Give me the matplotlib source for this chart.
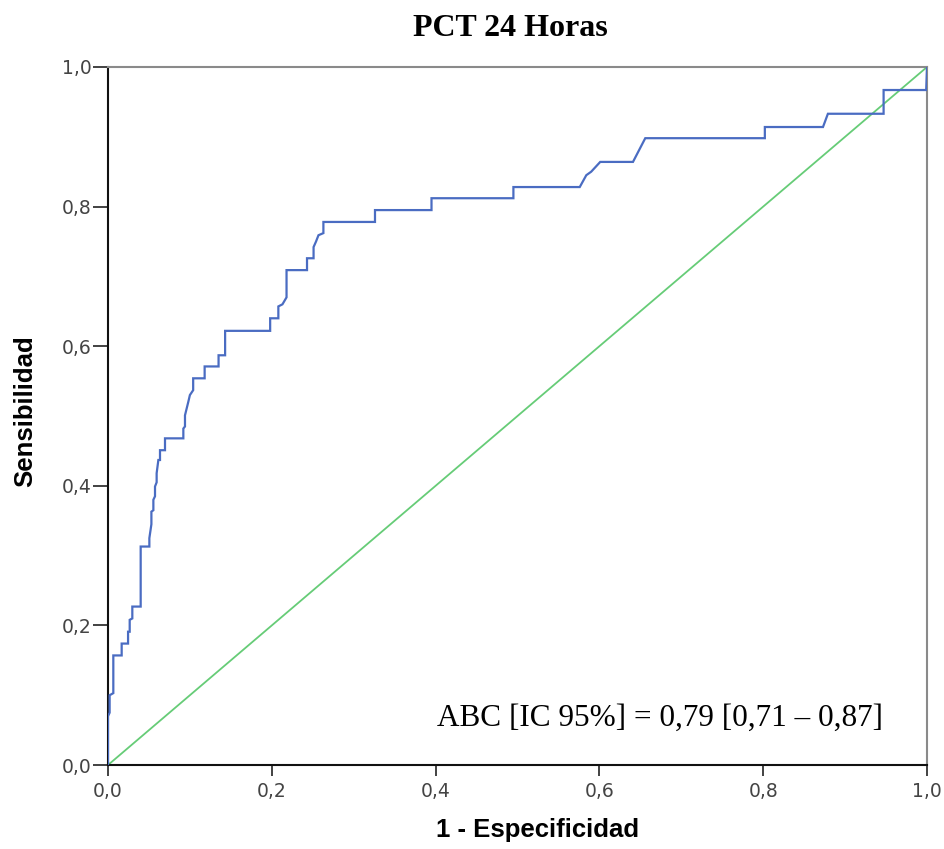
import matplotlib
matplotlib.use("Agg")
import matplotlib.pyplot as plt
from matplotlib.ticker import FuncFormatter

# vertices of the ROC curve (1 - especificidad, sensibilidad)
fpr = [0.0, 0.0, 0.002, 0.002, 0.0065, 0.0065, 0.0167, 0.0167, 0.0245, 0.0245,
       0.0265, 0.0265, 0.0297, 0.0297, 0.0399, 0.0399, 0.0505, 0.0505, 0.053, 0.053,
       0.0554, 0.0554, 0.0574, 0.0574, 0.0594, 0.0594, 0.0615, 0.0635, 0.0635, 0.0696,
       0.0696, 0.092, 0.092, 0.094, 0.094, 0.098, 0.100, 0.104, 0.104, 0.118,
       0.118, 0.135, 0.135, 0.143, 0.143, 0.198, 0.198, 0.208, 0.208, 0.213,
       0.218, 0.218, 0.243, 0.243, 0.251, 0.251, 0.254, 0.257, 0.263, 0.263,
       0.326, 0.326, 0.395, 0.395, 0.495, 0.495, 0.576, 0.584, 0.590, 0.601,
       0.641, 0.656, 0.802, 0.802, 0.873, 0.879, 0.947, 0.947, 0.999, 1.0]
tpr = [0.0, 0.07, 0.075, 0.10, 0.103, 0.157, 0.157, 0.174, 0.174, 0.191,
       0.191, 0.208, 0.210, 0.227, 0.227, 0.313, 0.313, 0.325, 0.345, 0.363,
       0.365, 0.380, 0.385, 0.399, 0.405, 0.418, 0.437, 0.437, 0.451, 0.451,
       0.468, 0.468, 0.482, 0.485, 0.501, 0.520, 0.530, 0.537, 0.554, 0.554,
       0.571, 0.571, 0.587, 0.587, 0.622, 0.622, 0.640, 0.640, 0.657, 0.660,
       0.670, 0.709, 0.709, 0.726, 0.726, 0.742, 0.750, 0.759, 0.762, 0.778,
       0.778, 0.795, 0.795, 0.812, 0.812, 0.828, 0.828, 0.845, 0.850, 0.864,
       0.864, 0.898, 0.898, 0.914, 0.914, 0.933, 0.933, 0.967, 0.967, 1.0]
ref = [0.0, 1.0]
ticks = [0.0, 0.2, 0.4, 0.6, 0.8, 1.0]

TITLE = "PCT 24 Horas"
XLAB = "1 - Especificidad"
YLAB = "Sensibilidad"
NOTE = "ABC [IC 95%] = 0,79 [0,71 \u2013 0,87]"

BLUE, GREEN = "#4a6cc2", "#66cc77"
SANS = ["Liberation Sans", "DejaVu Sans"]
SERIF = ["Liberation Serif", "DejaVu Serif"]

fig = plt.figure(figsize=(9.44, 8.49), dpi=100)
ax = fig.add_axes([0.1144, 0.0989, 0.8676, 0.8222])

ax.plot(ref, ref, color=GREEN, lw=1.3, zorder=2)
ax.plot(fpr, tpr, color=BLUE, lw=1.6, zorder=3, solid_joinstyle="miter")

ax.set_xlim(0, 1)
ax.set_ylim(0, 1)
ax.set_xticks(ticks)
ax.set_yticks(ticks)
fmt = FuncFormatter(lambda v, _: ("%.1f" % v).replace(".", ","))
ax.xaxis.set_major_formatter(fmt)
ax.yaxis.set_major_formatter(fmt)
ax.tick_params(direction="out", width=1.2, color="#222222",
               labelsize=13.5, labelcolor="#444444")
ax.tick_params(axis="x", length=8, pad=4)
ax.tick_params(axis="y", length=11, pad=1)
for lab in ax.get_xticklabels() + ax.get_yticklabels():
    lab.set_family("DejaVu Sans")

for sp in ("left", "bottom"):
    ax.spines[sp].set_color("#111111")
    ax.spines[sp].set_linewidth(1.5)
for sp in ("top", "right"):
    ax.spines[sp].set_color("#8a8a8a")
    ax.spines[sp].set_linewidth(1.5)

fig.text(0.569, 0.0224, XLAB, family=SANS, fontsize=18.5, fontweight="bold",
         ha="center", va="center")
fig.text(0.0265, 0.516, YLAB, family=SANS, fontsize=18.5, fontweight="bold",
         ha="center", va="center", rotation=90)
fig.text(0.541, 0.967, TITLE, family=SERIF, fontsize=23, fontweight="bold",
         ha="center", va="center")
ax.text(0.674, 0.067, NOTE, family=SERIF, fontsize=22.5, ha="center", va="center",
        transform=ax.transAxes)

fig.savefig("out.png", dpi=100)
